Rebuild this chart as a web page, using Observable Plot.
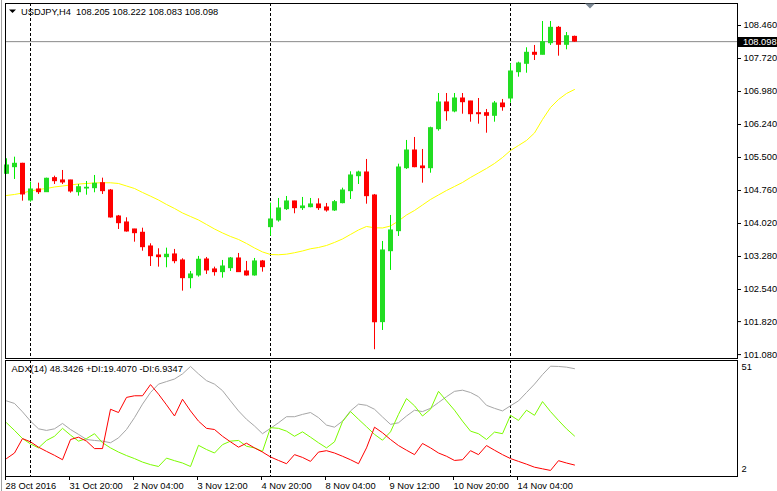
<!DOCTYPE html>
<html>
<head>
<meta charset="utf-8">
<script src="https://cdn.jsdelivr.net/npm/d3@7"></script>
<script src="https://cdn.jsdelivr.net/npm/@observablehq/plot@0.6"></script>
<style>
  body { margin: 0; background: #fff; }
  #chart { position: relative; width: 777px; height: 491px; overflow: hidden; background: #fff; }
  #chart svg { display: block; }
  #chart text { white-space: pre; }
  #edge { position: absolute; left: 1px; top: 0; width: 1px; height: 491px; background: #a0a0a0; }
  #bid { position: absolute; left: 738px; width: 39px; height: 10px; background: #000; color: #fff;
         font-family: 'Liberation Sans', Arial, sans-serif; font-size: 9.3px; line-height: 10px;
         padding-left: 5px; box-sizing: border-box; white-space: nowrap; }
</style>
</head>
<body>
<div id="chart"><div id="edge"></div></div>
<script>
// ---- Data (USDJPY H4, 28 Oct 2016 12:00 .. 15 Nov 2016 08:00) ----
const opens = [105.135,105.283,105.359,104.536,104.783,104.722,105.037,104.985,104.985,104.722,104.805,104.812,104.924,104.760,104.177,104.043,103.886,103.812,103.505,103.303,103.265,103.326,103.191,102.794,102.855,103.213,102.990,102.929,103.018,103.236,102.944,102.855,103.169,103.938,104.088,104.341,104.514,104.364,104.386,104.447,104.379,104.312,104.476,104.745,105.081,105.164,104.648,101.808,103.399,103.848,105.260,105.657,105.299,105.260,106.135,106.734,106.532,106.823,106.756,106.494,106.494,106.435,106.711,106.823,107.413,107.601,107.848,107.803,108.063,108.408,108.027,108.205];
const highs = [105.471,105.507,105.370,104.947,104.924,105.037,105.081,105.209,104.990,104.895,104.962,105.097,105.037,104.783,104.200,104.148,103.890,103.915,103.565,103.453,103.467,103.438,103.229,102.944,103.281,103.258,103.041,103.191,103.258,103.348,103.169,103.236,103.191,104.476,104.581,104.626,104.520,104.604,104.581,104.574,104.469,104.536,104.812,105.180,105.193,105.456,104.671,103.617,104.200,105.350,105.882,105.949,105.680,106.180,106.935,106.935,106.935,106.935,106.760,106.823,106.577,106.756,106.801,107.601,107.637,107.960,108.012,108.550,108.550,108.438,108.303,108.222];
const lows = [105.119,105.007,104.521,104.498,104.671,104.715,104.895,104.895,104.700,104.633,104.655,104.709,104.671,104.140,103.886,103.826,103.601,103.399,103.056,103.041,103.027,103.117,102.503,102.556,102.817,102.877,102.839,102.794,102.944,102.929,102.839,102.839,102.929,103.736,104.050,104.312,104.238,104.312,104.372,104.312,104.274,104.290,104.462,104.559,104.895,104.453,101.189,101.621,102.967,103.729,105.231,105.270,104.924,105.148,106.090,106.314,106.503,106.471,106.292,106.247,106.045,106.292,106.538,106.718,107.301,107.390,107.675,107.800,108.012,107.772,107.915,108.083];
const closes = [105.321,105.359,104.671,104.783,104.722,105.023,104.969,104.940,104.738,104.834,104.821,104.911,104.745,104.155,104.027,103.841,103.803,103.489,103.287,103.265,103.319,103.175,102.794,102.877,103.207,102.967,102.929,103.056,103.236,102.929,102.855,103.169,103.041,104.110,104.357,104.514,104.364,104.402,104.447,104.364,104.312,104.498,104.760,105.097,105.164,104.633,101.808,103.415,103.864,105.276,105.657,105.283,105.260,106.157,106.734,106.538,106.823,106.740,106.471,106.471,106.435,106.711,106.628,107.429,107.608,107.848,107.803,108.086,108.408,108.027,108.220,108.098];
const maValues = [104.648,104.671,104.704,104.749,104.783,104.805,104.839,104.861,104.884,104.906,104.917,104.929,104.933,104.933,104.917,104.861,104.805,104.716,104.633,104.547,104.447,104.357,104.256,104.177,104.099,103.998,103.897,103.808,103.729,103.662,103.572,103.471,103.382,103.325,103.319,103.332,103.364,103.404,103.453,103.482,103.527,103.595,103.673,103.774,103.875,103.953,103.924,103.920,103.964,104.077,104.211,104.312,104.435,104.559,104.660,104.760,104.850,104.940,105.052,105.153,105.254,105.366,105.500,105.657,105.769,105.882,106.050,106.352,106.621,106.801,106.935,107.025];
const adxValues = [34.5,33.4,29.8,25.8,22.5,21.8,22.5,24.8,22.2,20.1,17.9,17.5,17.2,16.5,18.6,22.2,27.3,33.1,38.1,41.7,42.8,43.9,46.1,49.3,46.1,43.2,41.7,38.9,34.5,30.2,26.6,23.7,20.4,22.7,25.1,27.7,27.7,28.7,29.5,27.3,24.1,23.2,25.8,30.2,33.1,32.6,30.9,27.6,24.4,25.1,28.0,30.5,29.9,31.3,33.8,36.3,38.6,39.1,38.1,36.3,32.6,31.3,30.2,32.4,34.5,38.1,41.7,45.8,49.4,49.3,49.0,48.3426];
const plusDIValues = [25.1,21.8,18.3,16.0,14.3,17.5,19.3,22.7,19.8,17.2,18.3,20.4,16.5,14.3,12.5,11.0,9.7,8.2,7.1,6.3,9.9,8.8,7.8,6.3,15.4,13.6,12.1,15.7,17.2,17.5,15.0,14.3,12.8,23.0,22.7,21.5,19.3,21.2,18.9,16.5,14.3,16.9,25.6,29.9,26.6,23.4,20.1,17.6,21.2,28.7,35.5,32.4,28.0,30.9,38.6,34.5,30.5,25.8,21.5,20.4,17.9,21.1,20.4,28.3,26.1,30.5,28.3,34.2,29.9,26.1,22.5,19.407];
const minusDIValues = [9.7,12.1,18.3,16.9,14.6,12.8,11.1,9.2,17.9,18.9,17.2,14.0,14.0,30.9,29.5,36.0,36.7,36.7,41.5,37.4,32.8,28.0,35.2,30.2,25.8,22.7,22.2,19.3,16.9,14.6,16.3,14.3,12.5,10.4,8.9,7.5,11.4,10.2,8.5,12.5,13.1,12.1,10.7,9.2,7.5,14.3,23.2,20.8,17.9,15.3,13.3,11.4,16.2,14.3,12.1,10.7,8.9,9.2,13.1,11.4,15.3,13.3,11.4,9.7,8.5,7.3,6.0,5.3,4.6,8.8,7.8,6.9347];
const priceTicks = [101.08,101.82,102.54,103.28,104.02,104.76,105.50,106.24,106.98,107.72,108.46];
const timeTickIdx = [0,8,16,24,32,40,48,56,64];
const timeTickLabels = ["28 Oct 2016","31 Oct 20:00","2 Nov 04:00","3 Nov 12:00","4 Nov 20:00","8 Nov 04:00","9 Nov 12:00","10 Nov 20:00","14 Nov 04:00"];
const separatorIdx = [3,33,63];
const adxTicks = [51,2];
const lastPrice = 108.098;
const titleText = "USDJPY,H4  108.205 108.222 108.083 108.098";
const adxTitleText = "ADX(14) 48.3426 +DI:19.4070 -DI:6.9347";

// ---- Build tables ----
const candles = opens.map((o, i) => ({
  i, open: o, high: highs[i], low: lows[i], close: closes[i], up: closes[i] >= o
}));
const maData = maValues.map((v, i) => ({i, v}));
const adxData = adxValues.map((v, i) => ({i, v}));
const plusData = plusDIValues.map((v, i) => ({i, v}));
const minusData = minusDIValues.map((v, i) => ({i, v}));

const FONT = "'Liberation Sans', Arial, sans-serif";
const FS = "9.3px";
const xScale = {type: "linear", domain: [0, 71], range: [6, 574]};
const GREEN_BODY = "#22dd22", GREEN_WICK = "#00ee00", RED = "#ff0000";

const main = Plot.plot({
  width: 777, height: 359,
  marginLeft: 5, marginRight: 40, marginTop: 3, marginBottom: 1,
  style: {fontFamily: FONT, fontSize: FS, color: "black", background: "transparent", overflow: "visible"},
  x: {...xScale, axis: null, label: null},
  y: {domain: [101.08, 108.46], range: [354.1, 25], axis: null, label: null},
  marks: [
    Plot.ruleY([lastPrice], {stroke: "#8a8a8a"}),
    Plot.ruleX(separatorIdx, {stroke: "black", strokeDasharray: "3,2"}),
    Plot.line(maData, {x: "i", y: "v", stroke: "#ffff00", strokeWidth: 1}),
    Plot.ruleX(candles, {filter: d => d.up, x: "i", y1: "low", y2: "high", stroke: GREEN_WICK}),
    Plot.ruleX(candles, {filter: d => !d.up, x: "i", y1: "low", y2: "high", stroke: RED}),
    Plot.ruleX(candles, {filter: d => d.up, x: "i", y1: d => Math.max(d.open, d.close), y2: d => Math.min(d.open, d.close), stroke: GREEN_BODY, strokeWidth: 5, insetTop: -0.5, insetBottom: -0.5}),
    Plot.ruleX(candles, {filter: d => !d.up, x: "i", y1: d => Math.max(d.open, d.close), y2: d => Math.min(d.open, d.close), stroke: RED, strokeWidth: 5, insetTop: -0.5, insetBottom: -0.5}),
    Plot.axisY({anchor: "right", label: null, ticks: priceTicks, tickFormat: d => d.toFixed(3), tickSize: 3, tickPadding: 3, fill: "black", stroke: "black"}),
    Plot.frame({stroke: "black"}),
    Plot.text([titleText], {frameAnchor: "top-left", dx: 15.5, dy: 5, lineAnchor: "top", textAnchor: "start", fill: "black"})
  ]
});

const sub = Plot.plot({
  width: 777, height: 132,
  marginLeft: 5, marginRight: 40, marginTop: 1, marginBottom: 15,
  style: {fontFamily: FONT, fontSize: FS, color: "black", background: "transparent", overflow: "visible"},
  x: {...xScale, axis: null, label: null},
  y: {domain: [2, 51], range: [117, 3], axis: null, label: null},
  marks: [
    Plot.ruleX(separatorIdx, {stroke: "black", strokeDasharray: "3,2"}),
    Plot.line(adxData, {x: "i", y: "v", stroke: "#a6a6a6", strokeWidth: 1}),
    Plot.line(plusData, {x: "i", y: "v", stroke: "#7cfc00", strokeWidth: 1}),
    Plot.line(minusData, {x: "i", y: "v", stroke: "#ff0000", strokeWidth: 1}),
    Plot.axisX({anchor: "bottom", label: null, ticks: timeTickIdx, tickFormat: d => timeTickLabels[timeTickIdx.indexOf(d)], textAnchor: "start", tickSize: 4, tickPadding: 2, dx: -1, fill: "black", stroke: "black"}),
    Plot.frame({stroke: "black"}),
    Plot.text([adxTitleText], {frameAnchor: "top-left", dx: 6, dy: 5, lineAnchor: "top", textAnchor: "start", fill: "black"}),
    Plot.text([String(adxTicks[0])], {frameAnchor: "top-right", dx: 4, dy: 7, lineAnchor: "middle", textAnchor: "start", fill: "black"}),
    Plot.text([String(adxTicks[1])], {frameAnchor: "bottom-right", dx: 4, dy: -7, lineAnchor: "middle", textAnchor: "start", fill: "black"})
  ]
});

// ---- Decorations drawn inside the main SVG: title triangle, chart-shift marker ----
{
  const svg = d3.select(main);
  svg.append("path").attr("d", "M9,9.5 L16,9.5 L12.5,13 Z").attr("fill", "black");
  svg.append("path").attr("d", "M585,3.5 L595,3.5 L590,8.5 Z").attr("fill", "#7a8794");
}

const root = document.getElementById("chart");
root.appendChild(main);
root.appendChild(sub);

// ---- Current price label, placed with the Plot y scale ----
{
  const yPix = main.scale("y").apply(lastPrice) + 0.5;
  const bid = document.createElement("div");
  bid.id = "bid";
  bid.style.top = (Math.round(yPix) - 5) + "px";
  bid.textContent = lastPrice.toFixed(3);
  root.appendChild(bid);
}
</script>
</body>
</html>
